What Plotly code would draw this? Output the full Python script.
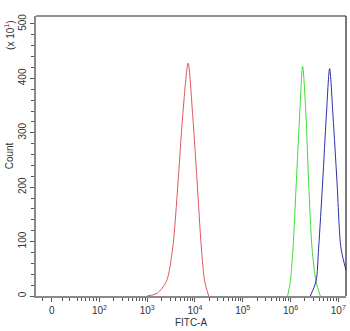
import math
import plotly.graph_objects as go

# Histogram curves (x in log10 FITC-A decades; "0" is drawn at decade position 1)
red_x = [2.998, 3.207, 3.402, 3.533, 3.646, 3.743, 3.856, 3.952, 4.044, 4.134, 4.203, 4.287]
red_y = [0, 5, 27, 88, 210, 332, 428, 332, 210, 88, 27, 0]

green_x = [5.939, 5.996, 6.052, 6.121, 6.190, 6.253, 6.324, 6.379, 6.450, 6.533, 6.623]
green_y = [0, 27, 88, 209, 331, 422, 331, 209, 88, 27, 0]

blue_x = [6.414, 6.533, 6.588, 6.672, 6.749, 6.818, 6.889, 6.973, 7.056, 7.167]
blue_y = [0, 27, 88, 209, 331, 418, 331, 209, 88, 46]

x_tick_pos = [1, 2, 3, 4, 5, 6, 7]
x_tick_text = ["0", "10<sup>2</sup>", "10<sup>3</sup>", "10<sup>4</sup>",
               "10<sup>5</sup>", "10<sup>6</sup>", "10<sup>7</sup>"]
y_tick_vals = [0, 100, 200, 300, 400, 500]

# minor tick positions (axis geometry)
x_minor = [0.814, 1.232, 1.372, 1.533, 1.617, 1.70, 1.79, 1.874, 1.944]
for n in range(2, 7):
    for k in range(2, 10):
        x_minor.append(n + math.log10(k))
y_minor = [v for v in range(0, 520, 20) if v % 100 != 0]

fig = go.Figure()
for xs, ys, col in [(red_x, red_y, "#e0575a"), (green_x, green_y, "#3ddc3d"), (blue_x, blue_y, "#2b2fa8")]:
    fig.add_trace(go.Scatter(x=xs, y=ys, mode="lines", line=dict(color=col, width=1, shape="spline", smoothing=0.8),
                             hoverinfo="skip", showlegend=False))

fig.update_layout(
    width=350, height=331,
    margin=dict(l=35.5, r=4.3, t=16, b=33),
    paper_bgcolor="white", plot_bgcolor="white",
    font=dict(family="Liberation Sans, Arial, sans-serif", size=10, color="#333"),
    showlegend=False,
)
fig.update_xaxes(
    range=[0.672, 7.161], showgrid=False, zeroline=False,
    showline=True, linecolor="#8a8a8a", linewidth=1.5,
    tickmode="array", tickvals=x_tick_pos, ticktext=x_tick_text,
    ticks="outside", ticklen=4, tickcolor="#555", tickwidth=1,
    minor=dict(tickmode="array", tickvals=x_minor, ticks="outside", ticklen=3, tickcolor="#555", tickwidth=1),
    tickfont=dict(size=10, color="#333"),
    title=dict(text="FITC-A", font=dict(size=10, color="#333"), standoff=4),
)
fig.update_yaxes(
    range=[0, 514.6], showgrid=False, zeroline=False,
    showline=True, linecolor="#8a8a8a", linewidth=1.5,
    tickmode="array", tickvals=y_tick_vals, tickangle=-90,
    ticks="outside", ticklen=4, tickcolor="#555", tickwidth=1,
    minor=dict(tickmode="array", tickvals=y_minor, ticks="outside", ticklen=3, tickcolor="#555", tickwidth=1),
    tickfont=dict(size=10, color="#333"),
    title=dict(text="Count", font=dict(size=10, color="#333"), standoff=2),
)
# top and right frame
fig.add_shape(type="line", xref="paper", yref="paper", x0=0, x1=1, y0=1, y1=1, line=dict(color="#222", width=1.2))
fig.add_shape(type="line", xref="paper", yref="paper", x0=1, x1=1, y0=0, y1=1, line=dict(color="#222", width=1.2))
fig.add_annotation(text="(x 10<sup>1</sup>)", xref="paper", yref="paper", x=-0.085, y=0.99,
                   xanchor="center", yanchor="top", textangle=-90, showarrow=False,
                   font=dict(size=10, color="#333"))
fig.write_html("out.html")
